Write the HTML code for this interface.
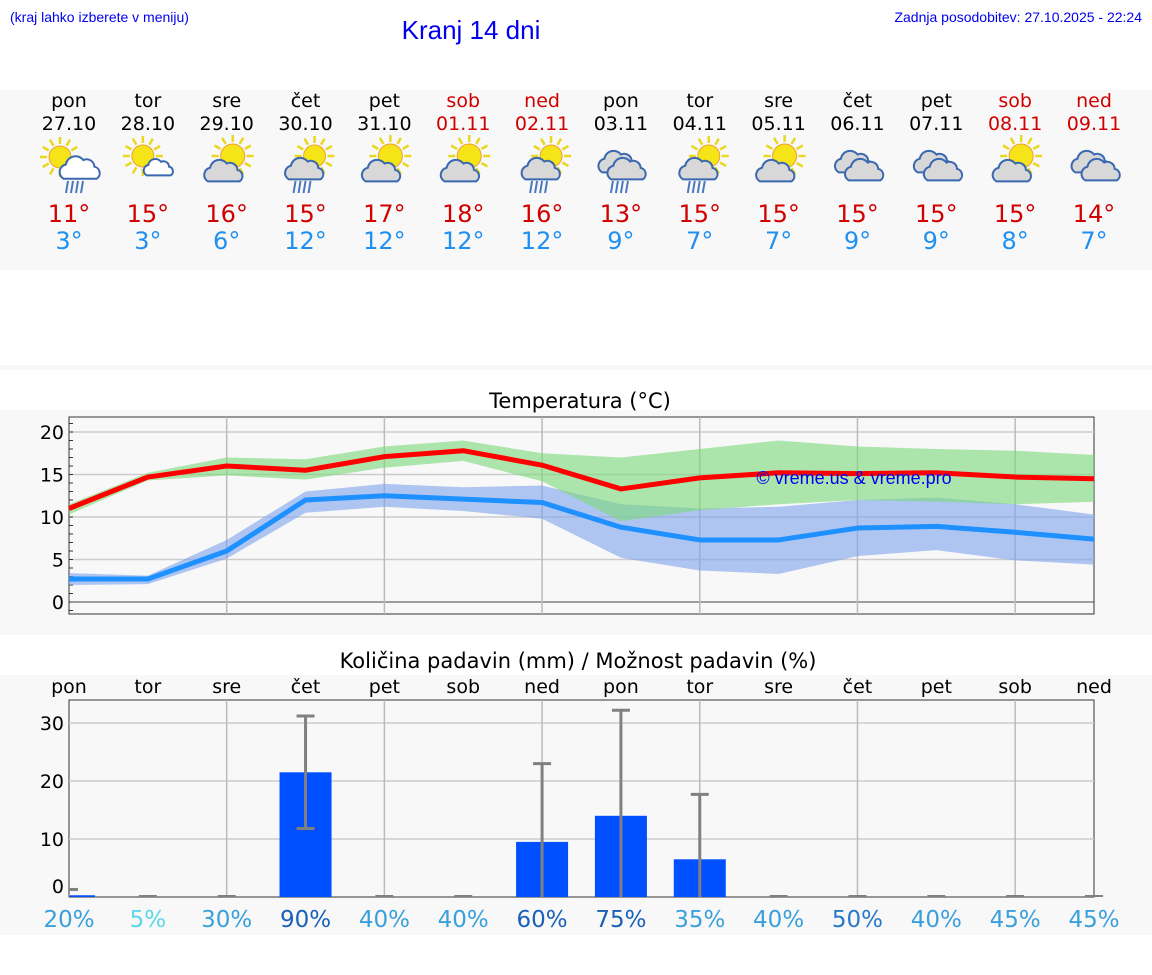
<!DOCTYPE html>
<html><head><meta charset="utf-8"><style>
body{margin:0;background:#fff;font-family:"DejaVu Sans","Liberation Sans",sans-serif}
svg{display:block}
</style></head><body>
<svg id="chart" width="1152" height="975" xmlns="http://www.w3.org/2000/svg" font-family="DejaVu Sans, Liberation Sans, sans-serif">
<rect x="0" y="90" width="1152" height="180" fill="#f8f8f8"/>
<rect x="0" y="365" width="1152" height="5" fill="#f8f8f8"/>
<rect x="0" y="410" width="1152" height="225" fill="#f8f8f8"/>
<rect x="0" y="675" width="1152" height="260" fill="#f8f8f8"/>
<text x="10" y="22" font-size="14" fill="#0000ee" font-family="Liberation Sans, sans-serif">(kraj lahko izberete v meniju)</text>
<text x="471" y="39" font-size="26" fill="#0000ee" text-anchor="middle" font-family="Liberation Sans, sans-serif">Kranj 14 dni</text>
<text x="1142" y="22" font-size="14" fill="#0000ee" text-anchor="end" font-family="Liberation Sans, sans-serif">Zadnja posodobitev: 27.10.2025 - 22:24</text>
<text x="580" y="408" font-size="21" text-anchor="middle">Temperatura (°C)</text>
<text x="578" y="668" font-size="21" text-anchor="middle">Količina padavin (mm) / Možnost padavin (%)</text>
<g id="hdr"></g><g id="tc"></g><g id="pc"></g>
</svg>
<script>
const days=["pon","tor","sre","čet","pet","sob","ned","pon","tor","sre","čet","pet","sob","ned"];
const dates=["27.10","28.10","29.10","30.10","31.10","01.11","02.11","03.11","04.11","05.11","06.11","07.11","08.11","09.11"];
const weekend=[0,0,0,0,0,1,1,0,0,0,0,0,1,1];
const icons=["sunrain","suncloud","cloudsun","cloudsunrain","cloudsun","cloudsun","cloudsunrain","cloudrain","cloudsunrain","cloudsun","clouds","clouds","cloudsun","clouds"];
const maxT=[11,15,16,15,17,18,16,13,15,15,15,15,15,14];
const minT=[3,3,6,12,12,12,12,9,7,7,9,9,8,7];
const maxLine=[11,14.7,16,15.5,17.1,17.8,16.1,13.3,14.6,15.2,15.1,15.2,14.7,14.5];
const maxHi=[11.5,15.2,17,16.8,18.3,19,17.5,17,18,19,18.3,18,17.8,17.3];
const maxLo=[10.3,14.3,14.9,14.4,15.8,16.6,14.2,9.5,10.8,11.5,12,11.8,11.5,11.8];
const minLine=[2.7,2.7,6,12,12.5,12.1,11.7,8.8,7.3,7.3,8.7,8.9,8.2,7.4];
const minHi=[3.4,3.1,7.3,13,13.9,13.5,13.7,11.5,11,11.2,12,12.3,11.5,10.3];
const minLo=[2,2.1,5.1,10.5,11.2,10.7,9.8,5.2,3.7,3.3,5.4,6.1,4.9,4.4];
const tTicks=[0,5,10,15,20];
const precip=[0.3,0,0,21.5,0,0,9.5,14,6.5,0,0,0,0,0];
const errLo=[1.3,0,0,11.8,0,0,0,0,0,0,0,0,0,0];
const errHi=[1.3,0,0,31.2,0,0,23,32.2,17.7,0,0,0,0,0];
const prob=[20,5,30,90,40,40,60,75,35,40,50,40,45,45];
const pTicks=[0,10,20,30];
const NS="http://www.w3.org/2000/svg";
function mk(p,t,a,txt){const e=document.createElementNS(NS,t);for(const k in a)e.setAttribute(k,a[k]);if(txt!==undefined)e.textContent=txt;p.appendChild(e);return e;}
const X0=69,X1=1094;
const xs=i=>X0+i*(X1-X0)/13;
const hdr=document.getElementById('hdr');
function sun(g,cx,cy,r){for(let k=0;k<12;k++){const a=k*Math.PI/6;mk(g,'line',{x1:cx+Math.cos(a)*(r+2),y1:cy+Math.sin(a)*(r+2),x2:cx+Math.cos(a)*(r+9),y2:cy+Math.sin(a)*(r+9),stroke:'#e8d820','stroke-width':2.5});}
 mk(g,'circle',{cx:cx,cy:cy,r:r,fill:'#f4e418',stroke:'#f0a030','stroke-width':1});}
function cloud(g,cx,cy,s,fill){const p=`M${cx-14*s},${cy+8*s} a${7*s},${7*s} 0 0 1 ${2*s},${-13*s} a${9*s},${9*s} 0 0 1 ${16*s},${-4*s} a${7*s},${7*s} 0 0 1 ${10*s},${6*s} a${6*s},${6*s} 0 0 1 ${2*s},${11*s} z`;
 mk(g,'path',{d:p,fill:fill,stroke:'#3a68b0','stroke-width':2});}
function rain(g,cx,cy){for(let k=0;k<4;k++)mk(g,'line',{x1:cx-8+k*5,y1:cy,x2:cx-10+k*5,y2:cy+12,stroke:'#4a78c0','stroke-width':2});}
for(let i=0;i<14;i++){
 const cx=xs(i);const g=mk(hdr,'g',{});
 
 
 const col=weekend[i]?'#d00000':'#000';
 const t1=mk(g,'text',{x:cx,y:107,'font-size':19,'text-anchor':'middle',fill:col},days[i]);
 
 
 const t2=mk(g,'text',{x:cx,y:130,'font-size':19,'text-anchor':'middle',fill:col},dates[i]);
 
 
 const ic=mk(g,'g',{});
 
 
 const k=icons[i];
 if(k==='sunrain'){sun(ic,cx-9,157,11);cloud(ic,cx+10,170,1.1,'#fff');rain(ic,cx+7,181);}
 else if(k==='suncloud'){sun(ic,cx-5,156,11);cloud(ic,cx+10,169,0.8,'#fff');}
 else if(k==='cloudsun'){sun(ic,cx+6,156,12);cloud(ic,cx-4,173,1.05,'#d8d8d8');}
 else if(k==='cloudsunrain'){sun(ic,cx+9,156,11);cloud(ic,cx-2,171,1.05,'#d8d8d8');rain(ic,cx-2,181);}
 else if(k==='cloudrain'){cloud(ic,cx-4,164,1.05,'#d8d8d8');cloud(ic,cx+5,171,1.05,'#d8d8d8');rain(ic,cx,181);}
 else {cloud(ic,cx-4,164,1.05,'#d8d8d8');cloud(ic,cx+6,172,1.05,'#d8d8d8');}
 const t3=mk(g,'text',{x:cx,y:222,'font-size':24,'text-anchor':'middle',fill:'#d00000'},maxT[i]+'°');
 
 
 const t4=mk(g,'text',{x:cx,y:249,'font-size':24,'text-anchor':'middle',fill:'#2090f0'},minT[i]+'°');
 
 
}
const tc=document.getElementById('tc');
const TY0=417,TY1=614;const ty=v=>602-v*8.5;
const pf=mk(tc,'rect',{x:X0,y:TY0,width:X1-X0,height:TY1-TY0,fill:'#f8f8f8',stroke:'#333','stroke-width':1});


for(const v of tTicks){mk(tc,'line',{x1:X0,x2:X1,y1:ty(v),y2:ty(v),stroke:v===0?'#444':'#ccc','stroke-width':v===0?1:1.5});
 const l=mk(tc,'text',{x:X0-5,y:ty(v)+7,'font-size':19,'text-anchor':'end'},v);
 
 }
for(let v=-1;v<=21;v++)mk(tc,'line',{x1:X0,x2:X0+4,y1:ty(v),y2:ty(v),stroke:'#333'});
for(let i=2;i<13;i+=2)mk(tc,'line',{x1:xs(i),x2:xs(i),y1:TY0,y2:TY1,stroke:'#bbb','stroke-width':1.5});
function band(hi,lo,fill,name){let d='M'+hi.map((v,i)=>xs(i)+','+ty(v)).join('L')+'L'+lo.map((v,i)=>xs(i)+','+ty(v)).reverse().join('L')+'Z';
 const p=mk(tc,'path',{d:d,fill:fill,'fill-opacity':0.6});}
band(minHi,minLo,'#7fa4ec','min-temp-band');
band(maxHi,maxLo,'#7ad878','max-temp-band');
function line(arr,col,name){const p=mk(tc,'polyline',{points:arr.map((v,i)=>xs(i)+','+ty(v)).join(' '),fill:'none',stroke:col,'stroke-width':5,'stroke-linejoin':'round'});}
line(minLine,'#1e90ff','min-temp-line');
line(maxLine,'#ff0000','max-temp-line');
const wm=mk(tc,'text',{x:854,y:484,'font-size':18,'text-anchor':'middle',fill:'#0000ee','font-family':'Liberation Sans, sans-serif'},'© vreme.us & vreme.pro');


const pc=document.getElementById('pc');
const PY0=700,PY1=897;const py=v=>897-v*5.8;
const pa=mk(pc,'rect',{x:X0,y:PY0,width:X1-X0,height:PY1-PY0,fill:'#f8f8f8',stroke:'#333','stroke-width':1});


for(const v of pTicks){if(v>0)mk(pc,'line',{x1:X0,x2:X1,y1:py(v),y2:py(v),stroke:'#ccc','stroke-width':1.5});
 const l=mk(pc,'text',{x:X0-5,y:v===0?893:py(v)+7,'font-size':19,'text-anchor':'end'},v);
 
 }
for(let i=2;i<13;i+=2)mk(pc,'line',{x1:xs(i),x2:xs(i),y1:PY0,y2:PY1,stroke:'#bbb','stroke-width':1.5});
const probCol=p=>p<=10?'#5cd8ea':p<=45?'#3aa0dc':p<=50?'#2878c8':'#1a60b8';
for(let i=0;i<14;i++){const cx=xs(i);
 const dl=mk(pc,'text',{x:cx,y:693,'font-size':19,'text-anchor':'middle'},days[i]);
 
 
 if(precip[i]>0){const top=py(precip[i]);const x0=Math.max(cx-26,X0+1);
  const b=mk(pc,'rect',{x:x0,y:top,width:cx+26-x0,height:PY1-top,fill:'#0050ff'});
  
  }
 if(errHi[i]>errLo[i]){const e=mk(pc,'g',{stroke:'#808080','stroke-width':3});
  
  
  const lo=py(errLo[i]);
  mk(e,'line',{x1:cx,x2:cx,y1:py(errHi[i]),y2:lo});
  mk(e,'line',{x1:cx-9,x2:cx+9,y1:py(errHi[i]),y2:py(errHi[i])});
  if(errLo[i]>0)mk(e,'line',{x1:cx-9,x2:cx+9,y1:lo,y2:lo});}
 else if(i>0){mk(pc,'line',{x1:cx-9,x2:cx+9,y1:PY1-1,y2:PY1-1,stroke:'#808080','stroke-width':2});}
 else {mk(pc,'line',{x1:X0,x2:X0+9,y1:py(errHi[0]),y2:py(errHi[0]),stroke:'#808080','stroke-width':3});}
 const t=mk(pc,'text',{x:cx,y:927,'font-size':23,'text-anchor':'middle',fill:probCol(prob[i])},prob[i]+'%');
 
 
}
</script>
</body></html>
